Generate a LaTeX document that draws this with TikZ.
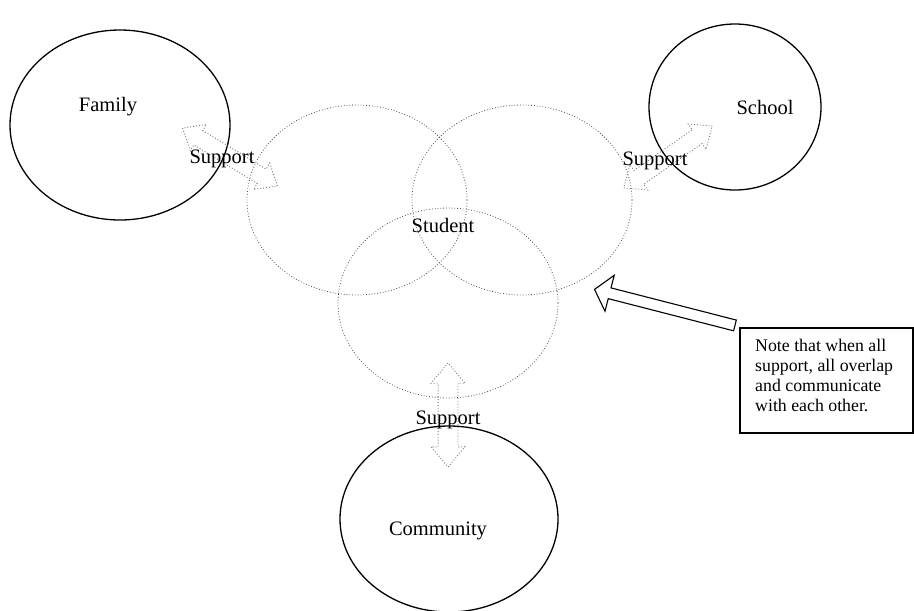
\documentclass[tikz,border=0pt]{standalone}
\usepackage{fontspec}
\setmainfont{Liberation Serif}
\usetikzlibrary{shapes.geometric,shapes.arrows}
\begin{document}
\begin{tikzpicture}[x=1pt,y=-1pt,
  solidell/.style={draw=black,line width=1.3pt,ellipse,inner sep=0pt},
  dotell/.style={draw=black!70,dotted,line width=0.8pt,ellipse,inner sep=0pt,minimum width=220pt,minimum height=190pt},
  lbl/.style={font=\fontsize{20.5}{23}\selectfont,inner sep=0pt},
  supparrow/.style={double arrow,draw=black!55,dotted,line width=0.9pt,inner sep=8pt,double arrow head extend=7pt,double arrow tip angle=80,anchor=center},
  notearrow/.style={single arrow,draw=black,line width=1.1pt,fill=white,inner sep=5pt,single arrow head extend=13pt,single arrow tip angle=100,anchor=center}]
\useasboundingbox (0,0) rectangle (914,611);
% outer ellipses
\node[solidell,minimum width=220pt,minimum height=190pt] (family) at (120,125) {};
\node[solidell,minimum width=172pt,minimum height=166pt] (school) at (735,107) {};
\node[solidell,minimum width=218pt,minimum height=186pt] (community) at (449,519) {};
% dotted circles
\node[dotell] (cl) at (357,200) {};
\node[dotell] (cr) at (522,200) {};
\node[dotell] (cb) at (448,303) {};
% support arrows
\node[supparrow,minimum height=111pt,rotate=-31.4] (af) at (230,157) {};
\node[supparrow,minimum height=108pt,rotate=34.9] (as) at (668,157) {};
\node[supparrow,minimum height=104pt,rotate=90,inner sep=9.5pt] (ac) at (448,415) {};
% labels
\node[lbl] (tfam) at (108,107) {Family};
\node[lbl] (tsch) at (765,107) {School};
\node[lbl] (tcom) at (438,531) {Community};
\node[lbl] (tstu) at (443,225) {Student};
\node[lbl] (s1) at (222,159) {Support};
\node[lbl] (s2) at (655,161) {Support};
\node[lbl] (s3) at (448,420) {Support};
% note
\node[notearrow,minimum height=145pt,rotate=165.6] (na) at (667,308) {};
\node[draw=black,line width=1.4pt,minimum width=173pt,minimum height=105pt,inner sep=0pt] (box) at (826.5,380.5) {};
\node[font=\fontsize{17.8}{20}\selectfont,align=left,anchor=north west,inner sep=0pt] (note) at (755,339)
 {Note that when all\\support, all overlap\\and communicate\\with each other.};
\end{tikzpicture}
\end{document}
